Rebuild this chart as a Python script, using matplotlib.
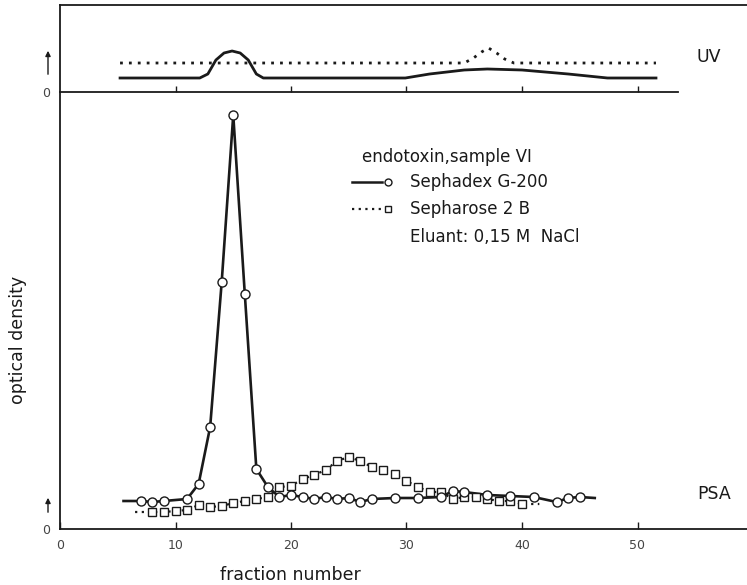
import matplotlib
matplotlib.use("Agg")

import matplotlib.pyplot as plt

# PSA panel, optical density (arbitrary units)
g200_frac = [7, 8, 9, 11, 12, 13, 14, 15, 16, 17, 18, 19, 20, 21, 22, 23, 24, 25, 26, 27,
             29, 31, 33, 34, 35, 37, 39, 41, 43, 44, 45]
g200_od = [0.28, 0.27, 0.28, 0.30, 0.45, 1.02, 2.47, 4.14, 2.35, 0.60, 0.42, 0.32, 0.34, 0.32,
           0.30, 0.32, 0.30, 0.31, 0.27, 0.30, 0.31, 0.31, 0.32, 0.38, 0.37, 0.34, 0.33, 0.32,
           0.27, 0.31, 0.32]
g200_trace_start = (5.5, 0.28)
g200_trace_end = (46.3, 0.31)

s2b_frac = list(range(8, 41))
s2b_od = [0.17, 0.17, 0.18, 0.19, 0.24, 0.22, 0.23, 0.26, 0.28, 0.30, 0.32, 0.42, 0.43, 0.50,
          0.54, 0.59, 0.68, 0.72, 0.68, 0.62, 0.59, 0.55, 0.48, 0.42, 0.37, 0.37, 0.30, 0.32,
          0.32, 0.30, 0.28, 0.28, 0.25]
s2b_trace_start = (6.5, 0.17)
s2b_trace_end = (41.5, 0.25)

# UV panel traces
uv_g200_x = [5.2, 12.1, 12.8, 13.5, 14.2, 14.9, 15.6, 16.3, 17.0, 17.6, 29.9, 32, 35, 37, 40,
             44, 47.4, 51.6]
uv_g200_y = [1.4, 1.4, 1.8, 3.2, 3.9, 4.1, 3.9, 3.2, 1.8, 1.4, 1.4, 1.8, 2.2, 2.3, 2.2, 1.8,
             1.4, 1.4]
uv_s2b_x = [5.2, 35.0, 35.8, 36.5, 37.1, 37.8, 38.5, 39.3, 51.6]
uv_s2b_y = [2.9, 2.9, 3.4, 4.0, 4.4, 3.9, 3.3, 2.9, 2.9]

xticks = [0, 10, 20, 30, 40, 50]

W, H = 747, 585
ink = "#1a1a1a"
grey = "#444444"

fig = plt.figure(figsize=(W / 100, H / 100), dpi=100)

x0, x1 = 60, 747
y_axis, y_top_axis, y_top = 529, 92, 5
px_per_unit = 11.55
xmax = (x1 - x0) / px_per_unit

# main panel
ax = fig.add_axes([x0 / W, (H - y_axis) / H, (x1 - x0) / W, (y_axis - y_top_axis) / H])
ax.set_xlim(0, xmax)
ax.set_ylim(0, (y_axis - y_top_axis) / 100)
for s in ["top", "right"]:
    ax.spines[s].set_visible(False)
for s in ["left", "bottom"]:
    ax.spines[s].set_color(ink)
    ax.spines[s].set_linewidth(1.3)
ax.set_xticks(xticks)
ax.tick_params(axis="x", direction="in", length=5, width=1, color=ink, pad=7,
               labelsize=9, labelcolor=grey)
ax.set_yticks([0])
ax.tick_params(axis="y", length=0, pad=7, labelsize=9, labelcolor=grey)

gx = [g200_trace_start[0]] + g200_frac + [g200_trace_end[0]]
gy = [g200_trace_start[1]] + g200_od + [g200_trace_end[1]]
ax.plot(gx, gy, color=ink, lw=1.9, zorder=2)
ax.plot(g200_frac, g200_od, ls="none", marker="o", ms=6.5, mfc="white", mec=ink, mew=1,
        zorder=4)

sx = [s2b_trace_start[0]] + s2b_frac + [s2b_trace_end[0]]
sy = [s2b_trace_start[1]] + s2b_od + [s2b_trace_end[1]]
ax.plot(sx, sy, color=ink, lw=1.6, ls=(0, (1, 2)), zorder=2)
ax.plot(s2b_frac, s2b_od, ls="none", marker="s", ms=6, mfc="white", mec=ink, mew=1,
        zorder=3)

# UV panel
ax2 = fig.add_axes([x0 / W, (H - y_top_axis) / H, (x1 - x0) / W, (y_top_axis - y_top) / H])
ax2.set_xlim(0, xmax)
ax2.set_ylim(0, (y_top_axis - y_top) / 10)
ax2.spines["right"].set_visible(False)
for s in ["left", "bottom", "top"]:
    ax2.spines[s].set_color(ink)
    ax2.spines[s].set_linewidth(1.3)
ax2.spines["bottom"].set_bounds(0, (678 - x0) / px_per_unit)
ax2.set_xticks(xticks[1:])
ax2.tick_params(axis="x", direction="in", length=4, width=1, color=ink, labelbottom=False)
ax2.set_yticks([0])
ax2.tick_params(axis="y", length=0, pad=7, labelsize=9, labelcolor=grey)
ax2.plot(uv_g200_x, uv_g200_y, color=ink, lw=2)
ax2.plot(uv_s2b_x, uv_s2b_y, color=ink, lw=2, ls=(0, (1, 2.2)))

# labels and legend
fig.text(290 / W, 1 - 575 / H, "fraction number", ha="center", va="center", fontsize=12.5,
         color=ink)
fig.text(18 / W, 1 - 340 / H, "optical density", rotation=90, ha="center", va="center",
         fontsize=12.5, color=ink)
fig.text(697 / W, 1 - 494 / H, "PSA", ha="left", va="center", fontsize=12.5, color=ink)
fig.text(697 / W, 1 - 57 / H, "UV", ha="left", va="center", fontsize=12.5, color=ink)

for ya, yb in [(515, 495), (77, 48)]:
    fig.add_artist(matplotlib.patches.FancyArrowPatch(
        (48 / W, 1 - ya / H), (48 / W, 1 - yb / H), transform=fig.transFigure,
        arrowstyle="-|>,head_length=3,head_width=1.5", color=ink, lw=1))

fig.text(362 / W, 1 - 157 / H, "endotoxin,sample VI", ha="left", va="center", fontsize=12,
         color=ink)
legend_rows = [("Sephadex G-200", "-", "o", 182),
               ("Sepharose 2 B", (0, (1, 2)), "s", 209)]
for label, ls, mk, yy in legend_rows:
    fy = 1 - yy / H
    fig.add_artist(matplotlib.lines.Line2D([352 / W, 382 / W], [fy, fy], color=ink,
                                           lw=1.8 if ls == "-" else 1.6, ls=ls))
    fig.add_artist(matplotlib.lines.Line2D([388 / W], [fy], marker=mk, ms=5, mfc="white",
                                           mec=ink, mew=1, ls="none"))
    fig.text(410 / W, fy, label, ha="left", va="center", fontsize=12, color=ink)
fig.text(410 / W, 1 - 237 / H, "Eluant: 0,15 M  NaCl", ha="left", va="center", fontsize=12,
         color=ink)

fig.savefig("out.png", dpi=100)
plt.close(fig)
